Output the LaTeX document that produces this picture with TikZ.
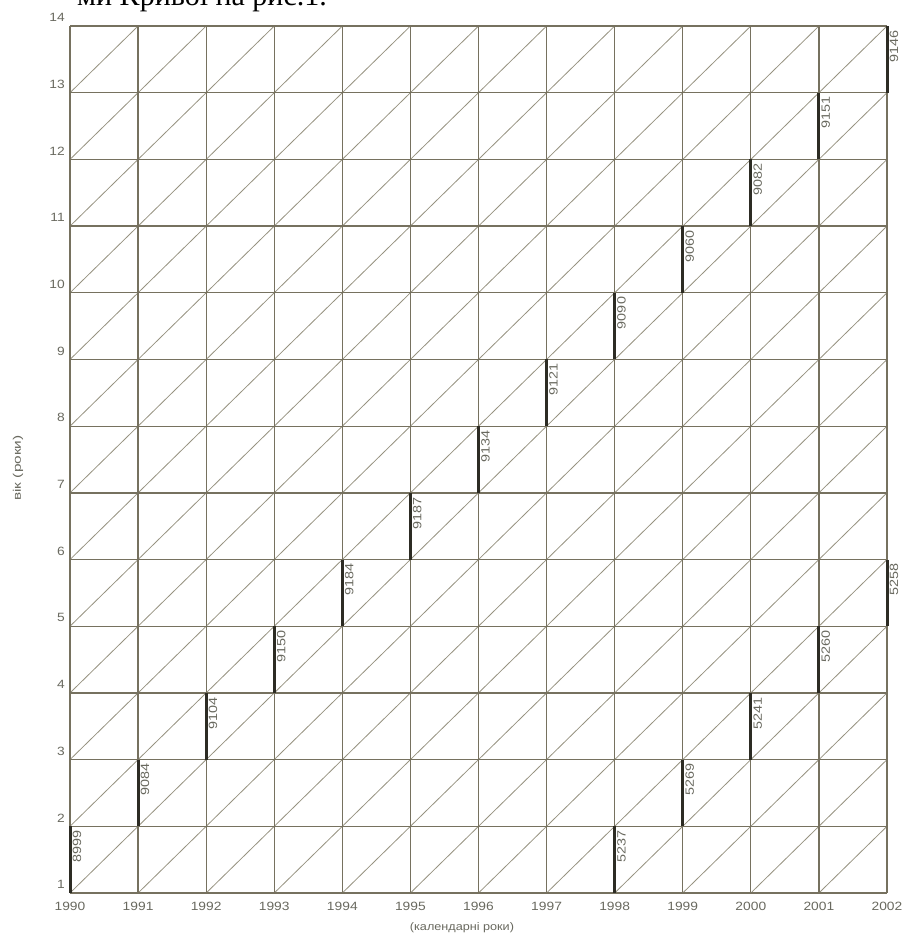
\documentclass[tikz,border=0pt]{standalone}
\usepackage{fontspec}
\setmainfont{Liberation Sans}
\newfontfamily\serifcyr{Liberation Serif}
\usepackage{graphicx}
\definecolor{gridc}{RGB}{118,113,95}
\definecolor{diagc}{RGB}{150,146,128}
\definecolor{barc}{RGB}{45,44,36}
\definecolor{txtc}{RGB}{105,105,95}
\newcommand{\widetxt}[2]{\scalebox{#1}[1]{#2}}
\tikzset{
  gridl/.style={draw=gridc, line width=1.3pt},
  diagl/.style={draw=diagc, line width=0.8pt},
  barl/.style={draw=barc, line width=3pt},
  ticklab/.style={text=txtc, inner sep=0pt, font=\fontsize{12}{12}\selectfont},
  barlab/.style={text=txtc, inner sep=0pt, rotate=90, anchor=north east, font=\fontsize{12}{12}\selectfont},
}
\begin{document}
\begin{tikzpicture}
\useasboundingbox (0,0) rectangle (904pt,938pt);
\begin{scope}[shift={(70pt,45pt)}, x=68.083pt, y=66.69pt]
  % diagonals
  \foreach \j in {0,...,11} {
    \foreach \i in {0,...,12} {
      \draw[diagl] (\j,\i) -- (\j+1,\i+1);
    }
  }
  % grid
  \foreach \i in {0,...,13} { \draw[gridl] (0,\i) -- (12,\i); }
  \foreach \j in {0,...,12} { \draw[gridl] (\j,0) -- (\j,13); }
  % age labels
  \foreach \i in {0,...,13} {
    \pgfmathtruncatemacro\lab{\i+1}
    \node[ticklab, anchor=south east] (age\i) at ([xshift=-5pt,yshift=4pt]0,\i) {\widetxt{1.15}{\lab}};
  }
  % year labels
  \foreach \j in {0,...,12} {
    \pgfmathtruncatemacro\yr{1990+\j}
    \node[ticklab, anchor=north] (yr\j) at ([yshift=-9pt]\j,0) {\widetxt{1.15}{\yr}};
  }
  % upper cohort bars
  \foreach \j/\v in {0/8999,1/9084,2/9104,3/9150,4/9184,5/9187,6/9134,7/9121,8/9090,9/9060,10/9082,11/9151,12/9146} {
    \draw[barl] (\j,\j) -- (\j,\j+1);
    \node[barlab] (u\j) at ([xshift=2.5pt,yshift=-4pt]\j,\j+1) {\widetxt{1.2}{\v}};
  }
  % lower cohort bars
  \foreach \j/\i/\v in {8/0/5237,9/1/5269,10/2/5241,11/3/5260,12/4/5258} {
    \draw[barl] (\j,\i) -- (\j,\i+1);
    \node[barlab] (l\j) at ([xshift=2.5pt,yshift=-4pt]\j,\i+1) {\widetxt{1.2}{\v}};
  }
\end{scope}
% axis titles
\node[text=txtc, inner sep=0pt, font=\fontsize{11}{11}\selectfont] (xtitle) at (462pt,10pt) {\widetxt{1.15}{(календарні роки)}};
\node[text=txtc, inner sep=0pt, rotate=90, font=\fontsize{11}{11}\selectfont] (ytitle) at (18pt,470pt) {\widetxt{1.4}{вік (роки)}};
% cut-off line of text at the top
\node[anchor=base west, inner sep=0pt, font=\serifcyr\fontsize{30}{30}\selectfont] (toptext) at (77pt,932pt) {ми Кривої на рис.1.};
\end{tikzpicture}
\end{document}
